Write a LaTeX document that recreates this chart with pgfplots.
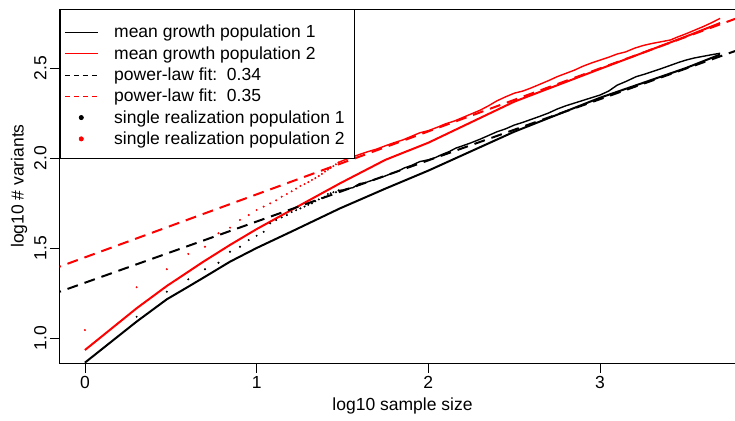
\documentclass[border=0pt]{standalone}
\usepackage{fontspec}
\setmainfont{Liberation Sans}
\usepackage{pgfplots}
\pgfplotsset{compat=1.18}
\definecolor{rred}{RGB}{255,0,0}
\newcommand{\rfont}{\fontsize{17.5bp}{21bp}\selectfont}
\begin{document}
\begin{tikzpicture}[x=1bp,y=1bp]
\begin{axis}[
  at={(59.5bp,57bp)}, anchor=south west,
  scale only axis, width=686bp, height=354bp,
  xmin=-0.148, xmax=3.847, ymin=0.861, ymax=2.828,
  axis line style={line width=0.75bp},
  tick align=outside, xtick pos=bottom, ytick pos=left,
  major tick length=9.5bp,
  tick style={black, line width=0.75bp},
  xtick={0,1,2,3}, xticklabels={0,1,2,3},
  ytick={1,1.5,2,2.5}, yticklabels={1.0,1.5,2.0,2.5},
  /pgf/number format/assume math mode=true,
  every tick label/.append style={font=\rfont},
  yticklabel style={rotate=90, anchor=south},
  xlabel={log10 sample size},
  ylabel={log10 \# variants},
  xlabel style={font=\rfont, at={(axis description cs:0.5,0)}, anchor=north, yshift=-31bp},
  ylabel style={font=\rfont, at={(axis description cs:-0.0418,0.5)}, anchor=south, rotate=0},
  legend style={at={(0,1)}, anchor=north west, draw=black, line width=0.75bp, fill=white,
    inner xsep=4.5bp, inner ysep=10.85bp, font=\rfont, row sep=0bp,
    nodes={inner sep=0bp, font=\rfont, text height=17.75bp, text depth=3.55bp},
    /tikz/every odd column/.append style={column sep=16bp}},
  legend cell align=left,
]
% mean growth population 1
\addplot[black, line width=2bp,
  legend image code/.code={\draw[black, line width=0.8bp] (0bp,-1.5bp) -- (33bp,-1.5bp);}]
coordinates {(0,0.863) (0.301,1.091) (0.477,1.215) (0.602,1.285) (0.699,1.34) (0.845,1.424)
 (1.0,1.50) (1.2,1.59) (1.485,1.72) (1.75,1.83) (2.0,1.93) (2.5,2.146) (3.0,2.335) (3.5,2.50) (3.699,2.575)};
\addlegendentry{mean growth population 1}
% mean growth population 2
\addplot[rred, line width=2bp,
  legend image code/.code={\draw[rred, line width=0.8bp] (0bp,-1.5bp) -- (33bp,-1.5bp);}]
coordinates {(0,0.933) (0.301,1.165) (0.477,1.289) (0.69,1.424) (0.845,1.517) (1.0,1.605)
 (1.2,1.71) (1.485,1.859) (1.75,1.99) (2.0,2.085) (2.5,2.313) (3.0,2.495) (3.5,2.675) (3.699,2.75)};
\addlegendentry{mean growth population 2}
% power-law fits
\addplot[black, line width=2bp, dash pattern=on 11bp off 7bp,
  legend image code/.code={\draw[black, line width=0.8bp, dash pattern=on 5.5bp off 3.5bp] (0bp,-1.5bp) -- (33bp,-1.5bp);}]
coordinates {(-0.2,1.239) (3.9,2.633)};
\addlegendentry{power-law fit:\ \ 0.34}
\addplot[rred, line width=2bp, dash pattern=on 11bp off 7bp,
  legend image code/.code={\draw[rred, line width=0.8bp, dash pattern=on 5.5bp off 3.5bp] (0bp,-1.5bp) -- (33bp,-1.5bp);}]
coordinates {(-0.2,1.378) (3.9,2.813)};
\addlegendentry{power-law fit:\ \ 0.35}
% single realization population 1 (separate points)
\addplot[only marks, mark=*, mark size=0.8bp, black,
  legend image code/.code={\fill[black] (16.5bp,-1.5bp) circle (2.1bp);}]
coordinates {(0.301,1.118) (0.477,1.257) (0.602,1.326) (0.699,1.382) (0.778,1.418) (0.845,1.479)
 (0.903,1.507) (0.954,1.544) (1.0,1.568) (1.041,1.59) (1.079,1.637) (1.114,1.655) (1.146,1.67)
 (1.176,1.683) (1.204,1.70) (1.230,1.71) (1.255,1.72) (1.279,1.73) (1.301,1.74) (1.322,1.748)
 (1.342,1.76) (1.362,1.77) (1.380,1.778) (1.398,1.785) (1.415,1.80) (1.431,1.804) (1.447,1.81)
 (1.462,1.81) (1.477,1.82)};
\addlegendentry{single realization population 1}
% single realization population 2 (separate points)
\addplot[only marks, mark=*, mark size=0.8bp, rred,
  legend image code/.code={\fill[rred] (16.5bp,-1.5bp) circle (2.1bp);}]
coordinates {(0,1.044) (0.301,1.282) (0.477,1.382) (0.602,1.467) (0.699,1.507) (0.778,1.582)
 (0.845,1.613) (0.903,1.656) (0.954,1.683) (1.0,1.711) (1.041,1.73) (1.079,1.748) (1.114,1.765)
 (1.146,1.785) (1.176,1.80) (1.204,1.815) (1.230,1.83) (1.255,1.845) (1.279,1.855) (1.301,1.866)
 (1.322,1.878) (1.342,1.888) (1.362,1.90) (1.380,1.912) (1.398,1.925) (1.415,1.935) (1.431,1.945)
 (1.447,1.955) (1.462,1.965) (1.477,1.975)};
\addlegendentry{single realization population 2\hspace*{5bp}}
% dense part of single realizations
\addplot[black, line width=1.4bp, forget plot] coordinates {
 (1.477,1.82) (1.50,1.822) (1.53,1.83) (1.56,1.835) (1.60,1.858) (1.63,1.862) (1.66,1.872)
 (1.70,1.884) (1.74,1.897) (1.78,1.912) (1.82,1.925) (1.86,1.945) (1.90,1.958) (1.95,1.98)
 (2.00,1.99) (2.04,2.002) (2.08,2.02) (2.12,2.035) (2.16,2.055) (2.20,2.068) (2.25,2.085)
 (2.30,2.104) (2.35,2.125) (2.40,2.146) (2.45,2.162) (2.50,2.183) (2.55,2.198) (2.60,2.215)
 (2.65,2.232) (2.70,2.25) (2.75,2.272) (2.80,2.29) (2.85,2.305) (2.90,2.32) (2.95,2.335)
 (3.00,2.35) (3.05,2.372) (3.10,2.405) (3.15,2.425) (3.21,2.452) (3.26,2.466) (3.31,2.482)
 (3.36,2.498) (3.41,2.515) (3.46,2.532) (3.50,2.544) (3.55,2.556) (3.60,2.565) (3.65,2.574)
 (3.699,2.582)};
\addplot[rred, line width=1.4bp, forget plot] coordinates {
 (1.477,1.975) (1.50,1.985) (1.55,2.003) (1.60,2.02) (1.65,2.036) (1.70,2.05) (1.75,2.068)
 (1.80,2.085) (1.85,2.10) (1.90,2.12) (1.95,2.14) (2.00,2.152) (2.05,2.17) (2.10,2.19)
 (2.15,2.205) (2.20,2.225) (2.25,2.245) (2.30,2.265) (2.35,2.29) (2.40,2.318) (2.45,2.34)
 (2.50,2.36) (2.55,2.372) (2.60,2.39) (2.65,2.41) (2.70,2.43) (2.75,2.452) (2.80,2.47)
 (2.85,2.488) (2.90,2.51) (2.95,2.528) (3.00,2.544) (3.05,2.56) (3.10,2.578) (3.15,2.59)
 (3.20,2.61) (3.25,2.625) (3.30,2.636) (3.35,2.645) (3.41,2.656) (3.45,2.672) (3.50,2.69)
 (3.55,2.71) (3.60,2.73) (3.65,2.752) (3.699,2.776)};
\end{axis}
\pgfresetboundingbox
\useasboundingbox (0,0) rectangle (735,420);
\end{tikzpicture}
\end{document}
